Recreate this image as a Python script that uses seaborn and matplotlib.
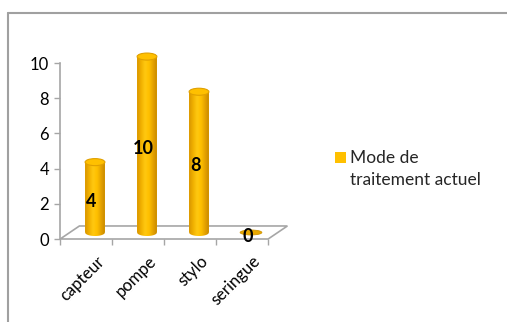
import numpy as np
import pandas as pd
import matplotlib
matplotlib.use("Agg")
import matplotlib.pyplot as plt
import seaborn as sns
from matplotlib.patches import Ellipse, Polygon, Rectangle
from matplotlib.lines import Line2D
from matplotlib.colors import LinearSegmentedColormap

# données
categories = ["capteur", "pompe", "stylo", "seringue"]
values = [4, 10, 8, 0]
serie = ["Mode de", "traitement actuel"]
yticks = [0, 2, 4, 6, 8, 10]

sns.set_style("white")
plt.rcParams['font.family'] = ['Lato', 'DejaVu Sans']

fig = plt.figure(figsize=(5.07, 3.22), dpi=100)
# axe : 52 px par catégorie, 17.6 px par unité
ax = fig.add_axes([56 / 507, 83 / 322, 234 / 507, 190 / 322])

df = pd.DataFrame({"cat": categories, "val": values})
sns.barplot(data=df, x="cat", y="val", color="#FFC000", saturation=1,
            width=0.38, ax=ax, zorder=3)

base = 0.37   # les cylindres sont posés au milieu du plancher 3D
eh = 0.40     # hauteur des ellipses
cyl = LinearSegmentedColormap.from_list(
    "cyl", ["#D99600", "#F0B000", "#FFC810", "#FFC000", "#E6A400", "#C98A00"])
grad = np.linspace(0, 1, 64).reshape(1, -1)

for p, v in zip(ax.patches, values):
    p.set_y(base)
    p.set_linewidth(0)
    x0, w = p.get_x(), p.get_width()
    xc, top = x0 + w / 2, base + v
    if v > 0:
        t = np.linspace(np.pi, 2 * np.pi, 40)
        low = np.column_stack([xc + w / 2 * np.cos(t), base + eh / 2 * np.sin(t)])
        up = np.column_stack([xc + w / 2 * np.cos(t[::-1]), top + eh / 2 * np.sin(t[::-1])])
        body = Polygon(np.vstack([low, up]), closed=True, facecolor="none",
                       edgecolor="none", zorder=3)
        ax.add_patch(body)
        im = ax.imshow(grad, cmap=cyl, aspect="auto", zorder=3.5,
                       extent=[x0, x0 + w, base - eh / 2, top])
        im.set_clip_path(body)
        ax.add_patch(Ellipse((xc, top), w, eh, facecolor="#FFC000",
                             edgecolor="#E0A000", lw=0.8, zorder=4))
    else:
        ax.add_patch(Ellipse((xc, base), w * 1.1, eh * 0.7, facecolor="#E8A800",
                             edgecolor="#D09400", lw=0.6, zorder=4))
    ax.text(xc - 0.07, v / 2 + 0.15, str(v), ha="center", va="center",
            fontsize=13, fontweight="bold", color="black", zorder=6)

# plancher 3D
dx, dy = 0.37, 0.74
left, right = -0.67, 3.33
floor = Polygon([(left, 0), (right, 0), (right + dx, dy), (left + dx, dy)],
                closed=True, facecolor="white", edgecolor="#A6A6A6", lw=1.2,
                zorder=1, clip_on=False)
ax.add_patch(floor)

ax.set_xlim(-0.75, 3.75)
ax.set_ylim(0, 10.8)
ax.set_xlabel("")
ax.set_ylabel("")

for s in ["top", "right", "bottom"]:
    ax.spines[s].set_visible(False)
ax.spines["left"].set_position(("data", left))
ax.spines["left"].set_bounds(0, 10)
ax.spines["left"].set_color("#A6A6A6")
ax.spines["left"].set_linewidth(1.2)

ax.set_yticks(yticks)
ax.tick_params(axis="y", left=True, length=4, color="#A6A6A6", width=1,
               labelsize=12, pad=4, labelcolor="black")

ax.set_xticks(np.arange(len(categories)) + 0.02)
ax.set_xticklabels(categories, rotation=45, ha="right", rotation_mode="anchor")
ax.set_xticks(np.arange(left, right + 0.01, 1.0), minor=True)
ax.tick_params(axis="x", which="major", bottom=True, length=0, pad=10,
               labelsize=12, labelcolor="black")
ax.tick_params(axis="x", which="minor", bottom=True, length=4,
               color="#A6A6A6", width=1)

# légende
fig.patches.append(Rectangle((335 / 507, 1 - 163 / 322), 11 / 507, 11 / 322,
                             transform=fig.transFigure, facecolor="#FFC000",
                             edgecolor="none"))
fig.text(350 / 507, 1 - 163 / 322, serie[0], fontsize=12.5, va="baseline")
fig.text(350 / 507, 1 - 185 / 322, serie[1], fontsize=12.5, va="baseline")

# cadre de la zone de graphique
fig.add_artist(Line2D([8 / 507, 1], [1 - 13 / 322] * 2, color="#A0A0A0", lw=1.5))
fig.add_artist(Line2D([8 / 507] * 2, [0, 1 - 13 / 322], color="#A0A0A0", lw=1.5))

fig.savefig("out.png", dpi=100)
